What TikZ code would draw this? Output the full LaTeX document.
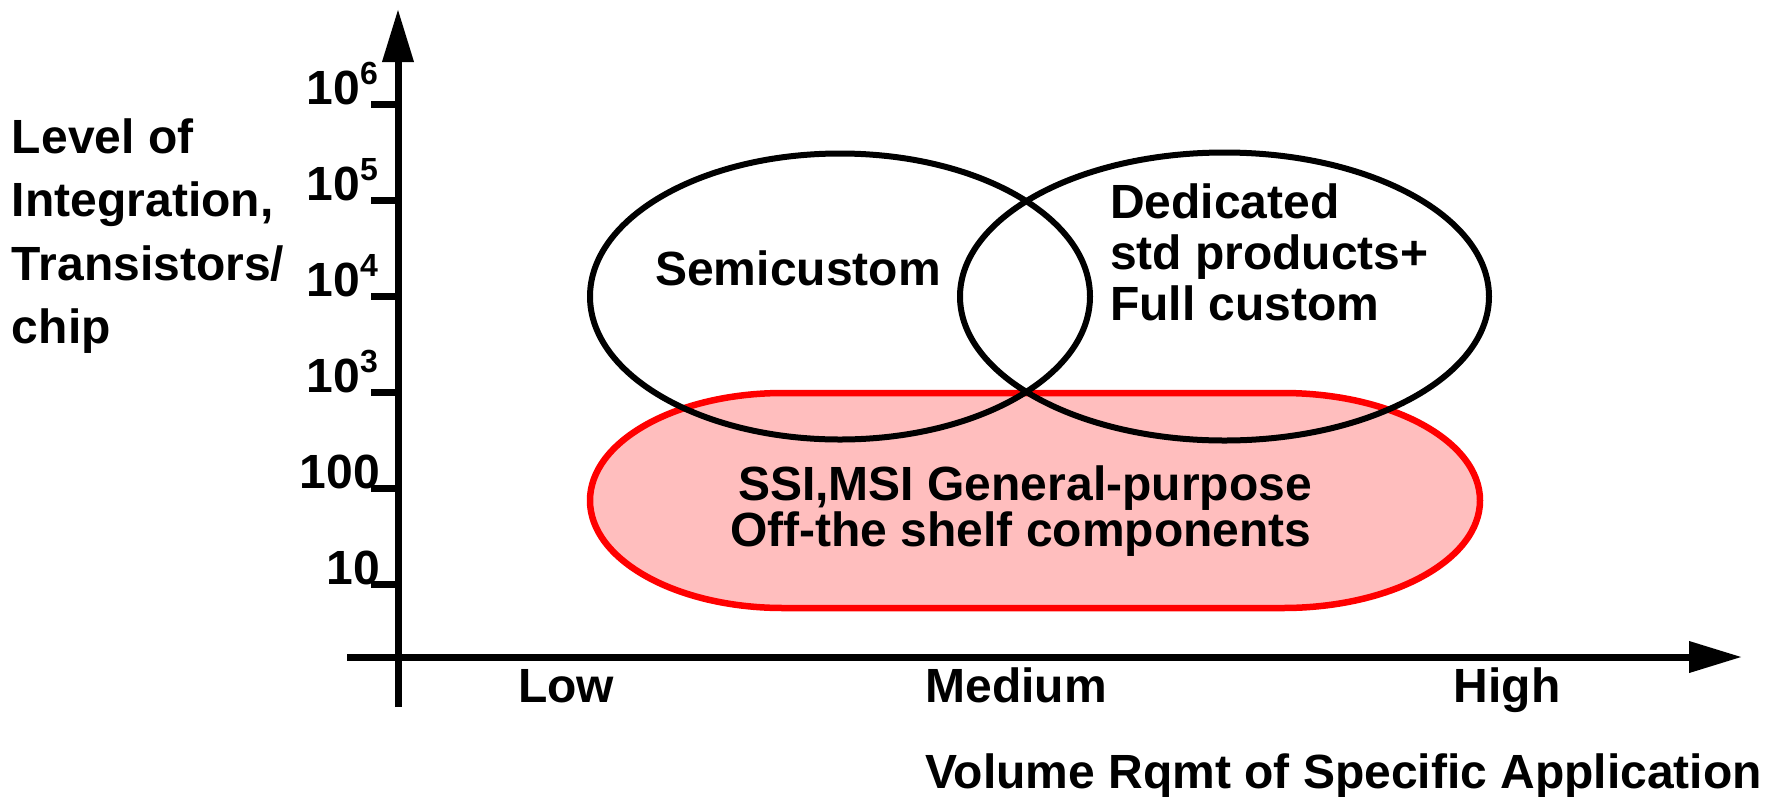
\documentclass[tikz,border=0pt]{standalone}
\usepackage{fontspec}
\setmainfont{Liberation Sans}
\usetikzlibrary{arrows.meta}
\definecolor{pinkfill}{RGB}{255,190,190}
\begin{document}
\begin{tikzpicture}[x=1pt,y=1pt,
  axis/.style={line width=7pt},
  bigarrow/.style={-{Triangle[length=53pt,width=30pt]}},
  ellline/.style={draw=black, line width=6pt},
  stadium/.style={draw=red, fill=pinkfill, line width=6.5pt},
  lab/.style={font=\fontsize{48}{56}\selectfont\bfseries, inner sep=0pt, outer sep=0pt}]
\useasboundingbox (0,0) rectangle (1781,-796);

% stadium (general-purpose components)
\draw[stadium] (783,-393) -- (1283,-393)
  arc[start angle=90, end angle=-90, x radius=197, y radius=107.5]
  -- (783,-608)
  arc[start angle=270, end angle=90, x radius=193, y radius=107.5] -- cycle;

% ellipses
\draw[ellline] (840,-296.5) ellipse[x radius=250, y radius=143];
\draw[ellline] (1224.5,-296.5) ellipse[x radius=264.5, y radius=144];

% axes
\coordinate (ybot) at (398,-707);
\coordinate (ytop) at (398,-9);
\coordinate (xleft) at (347,-657);
\coordinate (xright) at (1742,-657);
\draw[axis, bigarrow] (ybot) -- (ytop);
\draw[axis, bigarrow] (xleft) -- (xright);
\foreach \y in {104,200,296,392,488,584}
  \draw[axis] (371,-\y) -- (398,-\y);

% tick labels
\node[lab, anchor=base east] (t6) at (378,-104) {10\raisebox{20pt}{\fontsize{32}{32}\selectfont 6}};
\node[lab, anchor=base east] (t5) at (378,-200) {10\raisebox{20pt}{\fontsize{32}{32}\selectfont 5}};
\node[lab, anchor=base east] (t4) at (378,-296) {10\raisebox{20pt}{\fontsize{32}{32}\selectfont 4}};
\node[lab, anchor=base east] (t3) at (378,-392) {10\raisebox{20pt}{\fontsize{32}{32}\selectfont 3}};
\node[lab, anchor=base east] (t2) at (380,-488) {100};
\node[lab, anchor=base east] (t1) at (380,-584) {10};

% y-axis title
\node[lab, anchor=base west] (y1) at (12,-153) {Level of};
\node[lab, anchor=base west] (y2) at (12,-216.5) {Integration,};
\node[lab, anchor=base west] (y3) at (12,-280) {Transistors/};
\node[lab, anchor=base west] (y4) at (12,-343.5) {chip};

% region texts
\node[lab, anchor=base] (semi) at (798,-285) {Semicustom};
\node[lab, anchor=base west] (d1) at (1110,-218) {Dedicated};
\node[lab, anchor=base west] (d2) at (1110,-269) {std products+};
\node[lab, anchor=base west] (d3) at (1110,-320) {Full custom};
\node[lab, anchor=base] (g1) at (1025,-500) {SSI,MSI General-purpose};
\node[lab, anchor=base] (g2) at (1021,-546) {Off-the shelf components};

% x-axis labels
\node[lab, anchor=base] (low) at (566,-702) {Low};
\node[lab, anchor=base] (med) at (1016,-702) {Medium};
\node[lab, anchor=base] (high) at (1507,-702) {High};
\node[lab, anchor=base] (xt) at (1343.5,-788) {Volume Rqmt of Specific Application};
\end{tikzpicture}
\end{document}
